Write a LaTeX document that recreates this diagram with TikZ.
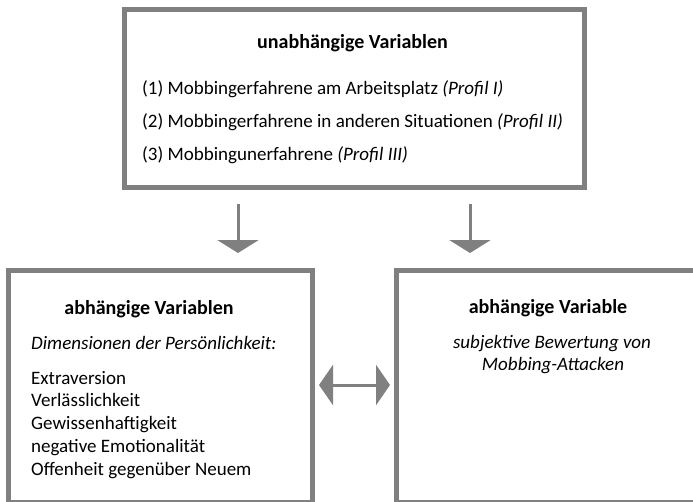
\documentclass[tikz,border=0pt]{standalone}
\usepackage{fontspec}
\setmainfont{Carlito}
\usetikzlibrary{arrows.meta}
\definecolor{boxgray}{HTML}{808080}
\tikzset{
  frame/.style={draw=boxgray, line width=5pt, inner sep=0pt},
  txt/.style={inner sep=0pt, anchor=base west, font=\fontsize{19}{22}\selectfont},
  head/.style={inner sep=0pt, anchor=base, font=\fontsize{20}{24}\selectfont\bfseries},
  itxt/.style={inner sep=0pt, anchor=base, font=\fontsize{19}{22}\selectfont\itshape},
  downarrow/.style={draw=boxgray, line width=3pt, -{Triangle[width=41pt,length=13pt]}, boxgray},
  dblarrow/.style={draw=boxgray, line width=3pt, {Triangle[width=40pt,length=14pt]}-{Triangle[width=40pt,length=14pt]}, boxgray}
}
\begin{document}
\begin{tikzpicture}[x=1pt,y=-1pt]
\useasboundingbox (0,0) rectangle (693,501);
\clip (0,0) rectangle (693,501);
% boxes
\node[frame, minimum width=460pt, minimum height=178pt] (topbox) at (354.5,98.5) {};
\node[frame, minimum width=304pt, minimum height=232.5pt] (leftbox) at (160.5,386.25) {};
\node[frame, minimum width=404pt, minimum height=232.5pt] (rightbox) at (598.5,386.25) {};
% top text
\node[head] (tophead) at (352.5,48) {unabhängige Variablen};
\node[txt] (t1) at (142,94) {(1) Mobbingerfahrene am Arbeitsplatz \textit{(Profil I)}};
\node[txt] (t2) at (142,127) {(2) Mobbingerfahrene in anderen Situationen \textit{(Profil II)}};
\node[txt] (t3) at (142,160) {(3) Mobbingunerfahrene \textit{(Profil III)}};
% left text
\node[head] (lefthead) at (149,314) {abhängige Variablen};
\node[txt, font=\fontsize{19}{22}\selectfont\itshape] (dims) at (31,349) {Dimensionen der Persönlichkeit:};
\node[txt] (d1) at (31,384) {Extraversion};
\node[txt] (d2) at (31,406.5) {Verlässlichkeit};
\node[txt] (d3) at (31,429) {Gewissenhaftigkeit};
\node[txt] (d4) at (31,452.5) {negative Emotionalität};
\node[txt] (d5) at (31,475) {Offenheit gegenüber Neuem};
% right text
\node[head] (righthead) at (548,313) {abhängige Variable};
\node[itxt] (r1) at (552,348) {subjektive Bewertung von};
\node[itxt] (r2) at (553,370) {Mobbing-Attacken};
% arrows
\coordinate (a1s) at (238,204);
\coordinate (a1e) at (238,253);
\coordinate (a2s) at (470,204);
\coordinate (a2e) at (470,253);
\coordinate (ds) at (319,385);
\coordinate (de) at (390,385);
\draw[downarrow] (a1s) -- (a1e);
\draw[downarrow] (a2s) -- (a2e);
\draw[dblarrow] (ds) -- (de);
\end{tikzpicture}
\end{document}
